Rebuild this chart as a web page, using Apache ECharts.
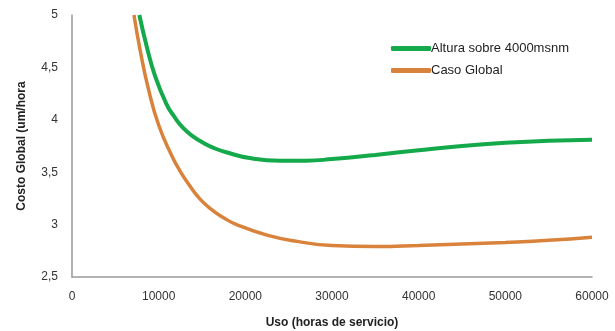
<!DOCTYPE html>
<html><head><meta charset="utf-8">
<script src="https://cdn.jsdelivr.net/npm/echarts@6/dist/echarts.min.js"></script>
<style>html,body{margin:0;padding:0;background:#fff}#c{width:615px;height:331px}</style>
</head><body><div id="c"></div>
<script>
const seriesNames = ['Altura sobre 4000msnm', 'Caso Global'];
const alturaX = [7770, 8620, 9580, 10900, 11800, 12850, 14000, 15150, 16400, 17800, 20500, 24000, 27000, 30000, 35000, 40000, 45000, 50000, 55000, 60000];
const alturaY = [5.00, 4.70, 4.42, 4.15, 4.03, 3.92, 3.84, 3.78, 3.73, 3.69, 3.635, 3.61, 3.61, 3.625, 3.665, 3.71, 3.75, 3.78, 3.80, 3.81];
const globalX = [7150, 7850, 8800, 10000, 11500, 12400, 13500, 14700, 16000, 17400, 19000, 22500, 26000, 30000, 35000, 40000, 45000, 50000, 55000, 60000];
const globalY = [5.00, 4.67, 4.30, 3.95, 3.66, 3.52, 3.38, 3.25, 3.15, 3.07, 3.00, 2.90, 2.84, 2.80, 2.79, 2.80, 2.815, 2.83, 2.85, 2.88];
const xTicks = [0, 10000, 20000, 30000, 40000, 50000, 60000];
const yTicks = [2.5, 3, 3.5, 4, 4.5, 5];
const colors = ['#14a94a', '#d9823b'];

const font = '"Liberation Sans Narrow", "Liberation Sans", Arial, sans-serif';
const chart = echarts.init(document.getElementById('c'));
chart.setOption({
  animation: false,
  grid: {left: 72, right: 23, top: 15, bottom: 54, containLabel: false, outerBoundsMode: 'none'},
  legend: {
    orient: 'vertical', left: 386, top: 37, itemGap: 9,
    itemWidth: 40, itemHeight: 5, icon: 'roundRect',
    textStyle: {fontFamily: font, fontSize: 13, color: '#222', padding: [0,0,0,-5]},
    data: seriesNames
  },
  xAxis: {
    type: 'value', min: xTicks[0], max: xTicks[xTicks.length - 1], interval: 10000,
    splitLine: {show: false}, axisTick: {show: false},
    axisLine: {lineStyle: {color: '#999', width: 1.5}},
    axisLabel: {fontFamily: font, fontSize: 12, color: '#333', margin: 14,
      formatter: v => String(v)},
    name: 'Uso (horas de servicio)', nameLocation: 'middle', nameGap: 40,
    nameTextStyle: {fontFamily: font, fontSize: 12, fontWeight: 'bold', color: '#222'}
  },
  yAxis: {
    type: 'value', min: yTicks[0], max: yTicks[yTicks.length - 1], interval: 0.5,
    splitLine: {show: false}, axisTick: {show: false},
    axisLine: {show: true, lineStyle: {color: '#999', width: 1.5}},
    axisLabel: {fontFamily: font, fontSize: 12, color: '#333', margin: 14,
      formatter: v => String(v).replace('.', ',')},
    name: 'Costo Global (um/hora', nameLocation: 'middle', nameGap: 44, nameRotate: 90,
    nameTextStyle: {fontFamily: font, fontSize: 12, fontWeight: 'bold', color: '#222'}
  },
  series: [
    {name: seriesNames[0], type: 'line', smooth: true, showSymbol: false, color: colors[0],
     lineStyle: {width: 4, color: colors[0]},
     data: alturaX.map((x, i) => [x, alturaY[i]])},
    {name: seriesNames[1], type: 'line', smooth: true, showSymbol: false, color: colors[1],
     lineStyle: {width: 3.5, color: colors[1]},
     data: globalX.map((x, i) => [x, globalY[i]])}
  ]
});
</script></body></html>
